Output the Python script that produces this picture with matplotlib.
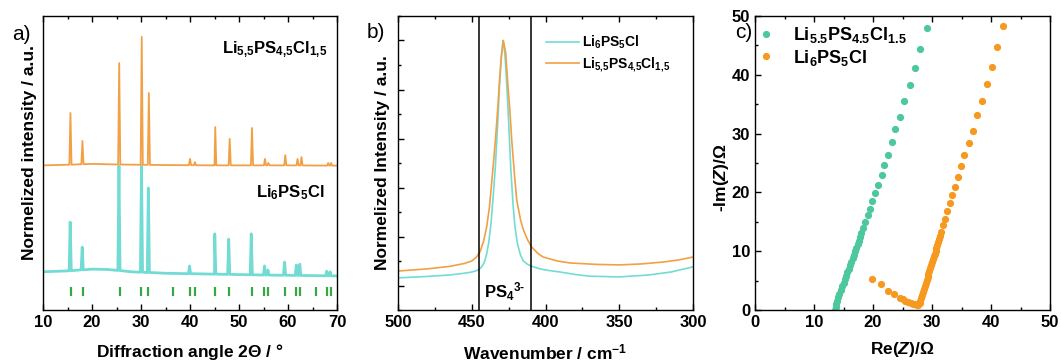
import numpy as np
import matplotlib
matplotlib.use("Agg")
import matplotlib.pyplot as plt
from matplotlib.ticker import MultipleLocator

plt.rcParams['font.family'] = ['Liberation Sans', 'DejaVu Sans']
plt.rcParams['font.weight'] = 'bold'
plt.rcParams['axes.labelweight'] = 'bold'
plt.rcParams['mathtext.fontset'] = 'custom'
plt.rcParams['mathtext.rm'] = 'Liberation Sans:bold'
plt.rcParams['mathtext.bf'] = 'Liberation Sans:bold'
plt.rcParams['mathtext.it'] = 'Liberation Sans:italic:bold'
plt.rcParams['mathtext.default'] = 'bf'

# ---------------- data: (a) XRD ----------------
lpsc15_peaks = [15.6, 18.05, 25.55, 30.15, 31.6, 40.0, 41.0, 45.15, 48.1, 52.65,
                55.3, 56.0, 59.45, 61.95, 62.75, 68.2, 68.8]
lpsc15_heights = [0.670, 0.575, 0.840, 0.929, 0.738, 0.514, 0.503, 0.622, 0.582, 0.619,
                  0.514, 0.500, 0.527, 0.514, 0.520, 0.500, 0.500]
lpsc15_base_x = [10, 15, 20, 25, 35, 45, 60, 70]
lpsc15_base_y = [0.492, 0.494, 0.497, 0.495, 0.493, 0.492, 0.492, 0.491]

lpsc_peaks = [15.55, 18.0, 25.5, 30.1, 31.5, 39.9, 45.05, 47.9, 52.5, 55.2,
              55.9, 59.3, 61.7, 62.4, 67.9, 68.6]
lpsc_heights = [0.299, 0.214, 0.490, 0.490, 0.415, 0.150, 0.259, 0.241, 0.259, 0.150,
                0.136, 0.163, 0.153, 0.156, 0.132, 0.130]
lpsc_base_x = [10, 15, 20, 23, 25, 28, 35, 45, 55, 70]
lpsc_base_y = [0.130, 0.133, 0.139, 0.138, 0.135, 0.130, 0.125, 0.122, 0.119, 0.116]

ref_reflections = [15.65, 18.1, 25.67, 30.1, 31.46, 36.5, 39.97, 40.93, 45.0, 48.0,
                   52.57, 55.16, 55.98, 59.39, 61.63, 62.52, 65.65, 67.9, 68.72]

xrd_label_top = r'Li$_{5{,}5}$PS$_{4{,}5}$Cl$_{1{,}5}$'
xrd_label_bot = r'Li$_{6}$PS$_{5}$Cl'

# ---------------- data: (b) Raman ----------------
raman_lpsc_x = [500, 480, 465, 455, 450, 447, 445, 443, 441.5, 440, 438.5, 437, 435.5,
                434, 432.5, 431.3, 430, 428.8, 427.6, 426.3, 425, 423.6, 422, 420.7,
                419, 417, 415, 412.5, 410, 405, 400, 390, 380, 370, 350, 330, 315, 300]
raman_lpsc_y = [0.031, 0.037, 0.043, 0.050, 0.055, 0.060, 0.066, 0.078, 0.095, 0.125,
                0.175, 0.250, 0.360, 0.484, 0.650, 0.800, 0.930, 1.000, 0.950, 0.827,
                0.670, 0.484, 0.330, 0.240, 0.170, 0.125, 0.100, 0.088, 0.080, 0.070,
                0.063, 0.055, 0.045, 0.038, 0.035, 0.043, 0.055, 0.076]

raman_lpsc15_x = [500, 480, 465, 455, 450, 447, 444.4, 442, 439.9, 438, 436.5, 435,
                  433.6, 432.3, 431.3, 430, 428.6, 427, 425.6, 424, 422.9, 421, 419.5,
                  417, 415, 412, 409.4, 405, 401.5, 392, 383.4, 365, 350, 335, 320, 310, 300]
raman_lpsc15_y = [0.059, 0.068, 0.078, 0.090, 0.100, 0.115, 0.137, 0.180, 0.239, 0.320,
                  0.418, 0.520, 0.622, 0.730, 0.827, 0.930, 1.000, 0.950, 0.827, 0.700,
                  0.594, 0.450, 0.349, 0.270, 0.227, 0.185, 0.157, 0.130, 0.116, 0.100,
                  0.092, 0.086, 0.084, 0.088, 0.096, 0.104, 0.116]

raman_box = [445, 410]

# ---------------- data: (c) EIS ----------------
eis_lpsc15_re = [13.6, 13.65, 13.75, 13.9, 14.1, 14.3, 14.5, 14.75, 15.0, 15.2, 15.45,
                 15.65, 15.9, 16.1, 16.3, 16.55, 16.8, 17.0, 17.2, 17.4, 17.6, 17.8,
                 18.0, 18.3, 18.7, 19.1, 19.5, 19.9, 20.4, 20.9, 21.5, 21.9, 22.5, 23.2,
                 23.8, 24.6, 25.3, 26.2, 27.1, 28.0, 29.1]
eis_lpsc15_im = [0.0, 0.5, 1.0, 1.6, 2.2, 2.8, 3.4, 4.0, 4.6, 5.2, 5.8,
                 6.4, 7.0, 7.6, 8.2, 8.8, 9.4, 10.0, 10.6, 11.2, 11.8, 12.4,
                 13.1, 14.0, 15.0, 16.1, 17.2, 18.5, 19.9, 21.3, 22.9, 24.6, 26.4, 28.5,
                 30.7, 32.9, 35.6, 38.3, 41.2, 44.4, 47.9]

eis_lpsc_re = [19.8, 21.3, 22.5, 23.6, 24.5, 25.0, 25.5, 26.0, 26.4, 26.8, 27.1, 27.4,
               27.7, 27.9, 28.05, 28.2, 28.35, 28.5, 28.65, 28.8, 28.95, 29.1, 29.25,
               29.4, 29.55, 29.7, 29.85, 30.0, 30.15, 30.3, 30.45, 30.6, 30.75, 30.9,
               31.05, 31.2, 31.35, 31.5, 31.8, 32.2, 32.6, 33.1, 33.4, 33.9, 34.4, 34.9,
               35.5, 36.2, 36.9, 37.6, 38.4, 39.3, 40.2, 41.1, 42.1]
eis_lpsc_im = [5.2, 4.4, 3.3, 2.8, 2.1, 1.8, 1.6, 1.4, 1.25, 1.1, 0.95, 0.85,
               0.9, 1.2, 1.6, 2.1, 2.6, 3.1, 3.6, 4.1, 4.6, 5.1, 5.6,
               6.1, 6.6, 7.1, 7.6, 8.1, 8.6, 9.1, 9.6, 10.1, 10.6, 11.1,
               11.6, 12.1, 12.6, 13.2, 14.4, 15.5, 16.8, 18.2, 19.6, 21.0, 22.6, 24.5,
               26.4, 28.4, 30.5, 33.1, 35.6, 38.4, 41.4, 44.7, 48.3]

eis_label_15 = r'Li$_{5.5}$PS$_{4.5}$Cl$_{1.5}$'
eis_label_6 = r'Li$_{6}$PS$_{5}$Cl'

# ---------------- colours ----------------
C_CYAN = '#72dcd4'
C_ORANGE = '#f2a045'
C_TICKS = '#38a845'
C_GREEN = '#4cc89c'
C_ORANGE2 = '#f7981f'

W, H = 1061, 362
fig = plt.figure(figsize=(W / 100, H / 100), dpi=100)


def px_axes(l, r, t, b):
    return fig.add_axes([l / W, (H - b) / H, (r - l) / W, (b - t) / H])


def style(ax):
    for s in ax.spines.values():
        s.set_linewidth(1.0)
    ax.tick_params(which='both', direction='in', top=True, labelsize=12, width=1.0)
    ax.tick_params(which='major', length=4)
    ax.tick_params(which='minor', length=2.5)


def peak_line(base_x, base_y, peaks, heights, hw=0.22):
    xs = list(base_x)
    ys = list(base_y)
    for p, h in zip(peaks, heights):
        b = np.interp(p, base_x, base_y)
        xs += [p - hw, p, p + hw]
        ys += [b, h, b]
    order = np.argsort(xs, kind='stable')
    return np.asarray(xs)[order], np.asarray(ys)[order]


# ---------------- (a) ----------------
axa = px_axes(43, 337, 16, 310)
x1, y1 = peak_line(lpsc_base_x, lpsc_base_y, lpsc_peaks, lpsc_heights)
x2, y2 = peak_line(lpsc15_base_x, lpsc15_base_y, lpsc15_peaks, lpsc15_heights)
axa.plot(x1, y1, color=C_CYAN, lw=2.0)
axa.plot(x2, y2, color=C_ORANGE, lw=1.3)
axa.vlines(ref_reflections, 0.048, 0.078, color=C_TICKS, lw=1.6)
axa.set_xlim(10, 70)
axa.set_ylim(0, 1)
axa.xaxis.set_major_locator(MultipleLocator(10))
axa.xaxis.set_minor_locator(MultipleLocator(5))
axa.set_yticks([])
style(axa)
axa.text(68, 0.885, xrd_label_top, ha='right', va='center', fontsize=12)
axa.text(67.5, 0.40, xrd_label_bot, ha='right', va='center', fontsize=12)
axa.set_xlabel(r'Diffraction angle 2$\mathit{\Theta}$ / °', fontsize=12.5, labelpad=9)
axa.set_ylabel('Normelized intensity / a.u.', fontsize=12.5)
axa.yaxis.set_label_coords(-0.02, 0.535)
fig.text(12 / W, 1 - 34 / H, 'a)', fontsize=15, fontweight='normal', va='center', ha='left')

# ---------------- (b) ----------------
axb = px_axes(398, 693, 16, 310)
axb.plot(raman_lpsc_x, raman_lpsc_y, color=C_CYAN, lw=1.2, label=xrd_label_bot)
axb.plot(raman_lpsc15_x, raman_lpsc15_y, color=C_ORANGE, lw=1.2, label=xrd_label_top)
axb.set_xlim(500, 300)
axb.set_ylim(-0.1, 1.1)
for wn in raman_box:
    axb.axvline(wn, color='black', lw=1.1)
axb.xaxis.set_major_locator(MultipleLocator(50))
axb.xaxis.set_minor_locator(MultipleLocator(25))
axb.yaxis.set_major_locator(MultipleLocator(0.2))
axb.yaxis.set_minor_locator(MultipleLocator(0.1))
style(axb)
axb.tick_params(axis='y', which='both', labelleft=False)
axb.text(np.mean(raman_box), -0.07, r'PS$_{4}$$^{3\mathbf{\text{-}}}$', ha='center', va='bottom', fontsize=12)
axb.legend(loc='upper left', bbox_to_anchor=(0.50, 0.94), frameon=False, fontsize=10,
           handlelength=2.4, handletextpad=0.25, labelspacing=0.35, borderpad=0, borderaxespad=0)
axb.set_xlabel(r'Wavenumber / cm$^{-1}$', fontsize=12.5, labelpad=9)
axb.set_ylabel('Normelized Intensity / a.u.', fontsize=12.5)
axb.yaxis.set_label_coords(-0.028, 0.5)
fig.text(367 / W, 1 - 33 / H, 'b)', fontsize=15, fontweight='normal', va='center', ha='left')

# ---------------- (c) ----------------
axc = px_axes(755, 1050, 16, 310)
axc.plot(eis_lpsc15_re, eis_lpsc15_im, 'o', color=C_GREEN, ms=5.2, mec='none', label=eis_label_15)
axc.plot(eis_lpsc_re, eis_lpsc_im, 'o', color=C_ORANGE2, ms=5.2, mec='none', label=eis_label_6)
axc.set_xlim(0, 50)
axc.set_ylim(0, 50)
axc.xaxis.set_major_locator(MultipleLocator(10))
axc.xaxis.set_minor_locator(MultipleLocator(5))
axc.yaxis.set_major_locator(MultipleLocator(10))
axc.yaxis.set_minor_locator(MultipleLocator(5))
style(axc)
axc.legend(loc='upper left', bbox_to_anchor=(0.0, 0.97), frameon=False, fontsize=13,
           handlelength=1.2, handletextpad=0.9, labelspacing=0.15, borderpad=0, borderaxespad=0)
axc.set_xlabel(r'Re($\mathit{Z}$)/Ω', fontsize=12.5, labelpad=7)
axc.set_ylabel(r'-Im($\mathit{Z}$)/Ω', fontsize=12.5)
axc.yaxis.set_label_coords(-0.08, 0.45)
fig.text(735 / W, 1 - 33 / H, 'c)', fontsize=15, fontweight='normal', va='center', ha='left')

fig.canvas.draw()
for ax in (axa, axb, axc):
    for lab in ax.get_xticklabels() + ax.get_yticklabels():
        lab.set_fontweight('bold')

fig.savefig('out.png', dpi=100)
